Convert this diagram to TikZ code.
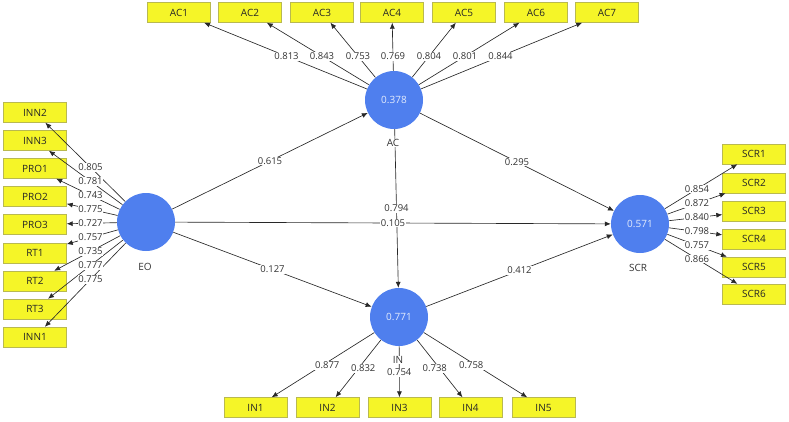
\documentclass[tikz,border=0pt]{standalone}
\usepackage{fontspec}
\setmainfont{Open Sans}
\usetikzlibrary{arrows.meta,calc}
\definecolor{lvblue}{RGB}{79,127,238}
\definecolor{mvyellow}{RGB}{245,245,40}
\definecolor{mvedge}{RGB}{185,185,80}
\definecolor{pathgrey}{RGB}{40,40,40}
\tikzset{
  lv/.style={circle,fill=lvblue,draw=none,minimum size=58pt,inner sep=0pt,
             font=\fontsize{10}{12}\selectfont,text=white!85!lvblue},
  mv/.style={draw=mvedge,fill=mvyellow,minimum width=63pt,minimum height=20pt,
             inner sep=0pt,font=\fontsize{10}{12}\selectfont,text=black!85},
  lvname/.style={font=\fontsize{10}{12}\selectfont,text=black!80,fill=white,inner sep=0.5pt},
  rel/.style={-{Latex[length=6pt,width=5pt]},draw=pathgrey,line width=0.65pt},
  val/.style={font=\fontsize{9.5}{11}\selectfont,text=black!80,fill=white,inner sep=0.8pt},
}

\begin{document}
\begin{tikzpicture}[x=1pt,y=-1pt]
  \useasboundingbox (0,0) rectangle (789,421);

  % latent variables
  \node[lv] (AC)  at (394,100) {0.378};
  \node[lv] (EO)  at (146,222) {};
  \node[lv] (IN)  at (399,317) {0.771};
  \node[lv] (SCR) at (640,224) {0.571};

  % indicators
  \foreach \i/\x in {1/179,2/250,3/322,4/392,5/464,6/536,7/607}
    \node[mv] (AC\i) at (\x,12.5) {AC\i};
  \foreach \n/\y in {INN2/112.5,INN3/140.5,PRO1/168.5,PRO2/196.5,PRO3/224.5,
                     RT1/253,RT2/281,RT3/309,INN1/337}
    \node[mv] (\n) at (35,\y) {\n};
  \foreach \i/\y in {1/154,2/183,3/211,4/239,5/267,6/294}
    \node[mv] (SCR\i) at (754,\y) {SCR\i};
  \foreach \i/\x in {1/255.5,2/327.5,3/399.5,4/470.5,5/543.5}
    \node[mv] (IN\i) at (\x,407.5) {IN\i};

  % inner model
  \foreach \a/\b in {EO/AC,AC/SCR,AC/IN,EO/SCR,IN/SCR,EO/IN}
    \draw[rel] (\a) -- (\b);

  % outer model
  \foreach \n in {AC1,AC2,AC3,AC4,AC5,AC6,AC7}
    \draw[rel] (AC) -- (\n);
  \foreach \n in {INN2,INN3,PRO1,PRO2,PRO3,RT1,RT2,RT3,INN1}
    \draw[rel] (EO) -- (\n);
  \foreach \n in {SCR1,SCR2,SCR3,SCR4,SCR5,SCR6}
    \draw[rel] (SCR) -- (\n);
  \foreach \n in {IN1,IN2,IN3,IN4,IN5}
    \draw[rel] (IN) -- (\n);

  % coefficients
  \foreach \a/\b/\v in {EO/AC/0.615,AC/SCR/0.295,AC/IN/0.794,EO/SCR/0.105,
                        IN/SCR/0.412,EO/IN/0.127}
    \node[val] at ($(\a)!0.5!(\b)$) {\v};
  \foreach \n/\v in {AC1/0.813,AC2/0.843,AC3/0.753,AC4/0.769,AC5/0.804,
                     AC6/0.801,AC7/0.844}
    \node[val] at ($(AC)!0.5!(\n)$) {\v};
  \foreach \n/\v in {INN2/0.805,INN3/0.781,PRO1/0.743,PRO2/0.775,PRO3/0.727,
                     RT1/0.757,RT2/0.735,RT3/0.777,INN1/0.775}
    \node[val] at ($(EO)!0.5!(\n)$) {\v};
  \foreach \n/\v in {SCR1/0.854,SCR2/0.872,SCR3/0.840,SCR4/0.798,SCR5/0.757,
                     SCR6/0.866}
    \node[val] at ($(SCR)!0.5!(\n)$) {\v};
  \foreach \n/\v/\d in {IN1/0.877/3,IN2/0.832/6,IN3/0.754/10,IN4/0.738/6,IN5/0.758/3}
    \node[val] at ($(IN)!0.5!(\n)+(0,\d)$) {\v};

  % construct names
  \node[lvname] (nAC)  at (393,143) {AC};
  \node[lvname] (nEO)  at (145,267) {EO};
  \node[lvname] (nIN)  at (398,360) {IN};
  \node[lvname] (nSCR) at (638,268) {SCR};
\end{tikzpicture}
\end{document}
